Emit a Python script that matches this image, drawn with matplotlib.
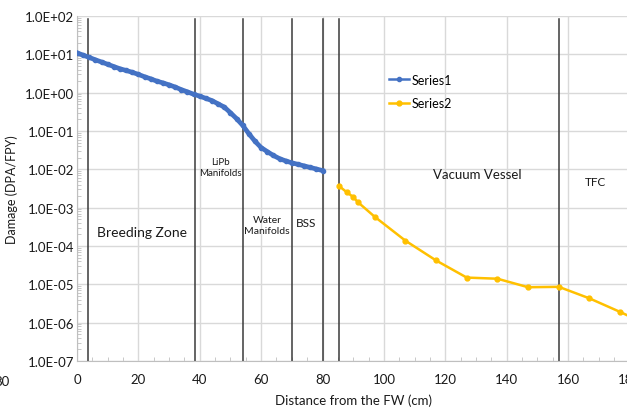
import numpy as np
import matplotlib
matplotlib.use('Agg')
import matplotlib.pyplot as plt
from matplotlib.ticker import FuncFormatter, LogLocator, MultipleLocator

plt.rcParams['font.family'] = ['Lato', 'DejaVu Sans']

# damage through the blanket (Series1) and the vessel / coils (Series2)
dist1 = [0, 2, 4, 6, 8, 10, 12, 14, 16, 18, 20, 22, 24, 26, 28, 30, 32, 34, 36, 38,
         40, 42, 44, 46, 48, 50, 52, 54, 56, 58, 60, 62, 64, 66, 68, 70, 72, 74, 76, 78, 80]
dmg1 = [11.0, 9.5, 8.3, 7.2, 6.3, 5.5, 4.8, 4.2, 3.8, 3.4, 3.0, 2.6, 2.3, 2.0, 1.8, 1.6,
        1.4, 1.2, 1.05, 0.91, 0.81, 0.71, 0.62, 0.51, 0.42, 0.30, 0.21, 0.14, 0.085,
        0.054, 0.037, 0.029, 0.023, 0.019, 0.0166, 0.0148, 0.0135, 0.0123, 0.0112,
        0.0102, 0.0093]

dist2 = [85.5, 88, 90, 91.5, 97, 107, 117, 127, 137, 147, 157, 167, 177, 187]
dmg2 = [3.6e-3, 2.5e-3, 1.9e-3, 1.4e-3, 5.8e-4, 1.38e-4, 4.2e-5, 1.5e-5, 1.4e-5,
        8.4e-6, 8.6e-6, 4.3e-6, 1.9e-6, 8e-7]

# region boundaries (cm)
bounds = [3.6, 38.5, 54, 70, 80, 85.5, 157]

regions = [("Breeding Zone", 21.2, 10**-3.63, 10),
           ("LiPb\nManifolds", 46.6, 10**-1.95, 7),
           ("Water\nManifolds", 61.9, 10**-3.45, 7.5),
           ("BSS", 74.6, 10**-3.39, 8.5),
           ("Vacuum Vessel", 130.3, 10**-2.13, 9.5),
           ("TFC", 168.8, 10**-2.32, 8.5)]

fig = plt.figure(figsize=(6.27, 4.10), dpi=100)
ax = fig.add_axes([0.1228, 0.1171, 0.8810, 0.8414])

ax.set_yscale('log')
ax.set_xlim(0, 180)
ax.set_ylim(1e-7, 1e2)

ax.grid(True, which='major', color='#d9d9d9', lw=1.0)
ax.set_axisbelow(True)

for b in bounds:
    ax.axvline(b, ymin=0, ymax=0.99, color='#3a3a3a', lw=1.1, zorder=2)

ax.plot(dist1, dmg1, color='#4472C4', lw=3.4, marker='o', ms=3.0, label='Series1', zorder=3)
ax.plot(dist2, dmg2, color='#FFC000', lw=1.8, marker='o', ms=3.5, label='Series2', zorder=3)

for txt, x, y, fs in regions:
    ax.text(x, y, txt, ha='center', va='center', fontsize=fs, color='#1a1a1a',
            linespacing=1.3)

ax.xaxis.set_major_locator(MultipleLocator(20))
ax.xaxis.set_minor_locator(MultipleLocator(5))
ax.yaxis.set_major_locator(LogLocator(base=10, numticks=12))
ax.yaxis.set_minor_locator(LogLocator(base=10, subs=np.arange(2, 10), numticks=12))
ax.yaxis.set_major_formatter(FuncFormatter(lambda v, p: '%.1E' % v))
ax.yaxis.set_minor_formatter(FuncFormatter(lambda v, p: ''))

ax.tick_params(axis='both', which='major', length=0, labelsize=9.5, colors='#1a1a1a')
ax.tick_params(axis='y', which='major', pad=2)
ax.tick_params(axis='x', which='major', pad=9)
ax.tick_params(axis='both', which='minor', direction='in', length=3, color='#bfbfbf')

for s in ['top', 'right']:
    ax.spines[s].set_visible(False)
for s in ['left', 'bottom']:
    ax.spines[s].set_color('#bfbfbf')

ax.set_ylabel('Damage (DPA/FPY)', fontsize=9, color='#1a1a1a', labelpad=5)
ax.set_xlabel('Distance from the FW (cm)', fontsize=9.5, color='#1a1a1a', labelpad=6)

leg = ax.legend(loc='upper left', bbox_to_anchor=(0.545, 0.865), frameon=False, fontsize=9,
                handlelength=1.6, handletextpad=0.2, labelspacing=0.9)
for ln in leg.get_lines():
    ln.set_linewidth(1.8)

fig.text(0.016, 0.068, '80', ha='right', va='center', fontsize=9.5, color='#1a1a1a')

fig.savefig('out.png', dpi=100)
